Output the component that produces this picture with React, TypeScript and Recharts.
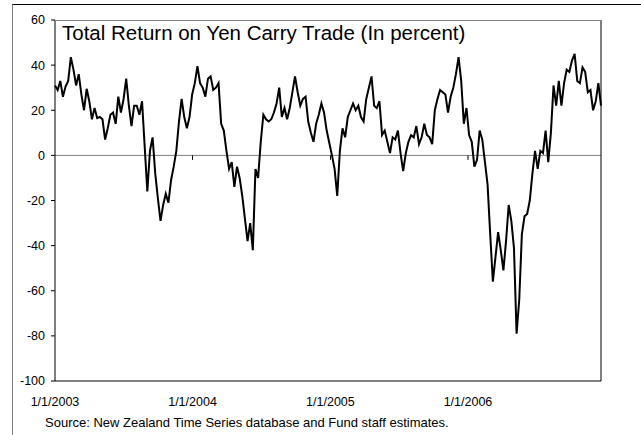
import { LineChart, Line, XAxis, YAxis, ReferenceLine } from 'recharts';

// weekly readings, starting 1/1/2003 (percent)
const returns2003 = [
  31, 29, 33, 26, 30.5, 33, 43.5, 38, 31, 36, 27, 20, 29.5, 24, 16, 21, 16.5, 17, 16, 7, 12, 18, 19,
  14, 26, 19, 25, 34, 22, 13, 22, 22, 18, 24, 4, -16, 2, 8, -8, -19, -29, -22, -17, -21, -11, -5, 2,
  15, 25, 17, 12, 17,
];
const returns2004 = [
  27, 32, 39.5, 32, 30, 26, 34, 35, 29, 30, 32, 14, 11, 2, -6, -3, -14, -5, -10, -18, -28, -38, -30,
  -42, -6, -10, 6, 18, 16, 15, 16, 19, 23, 30, 17, 21, 16, 21, 28, 35, 28, 22, 25, 26, 15, 10, 6, 14,
  18, 23, 19, 11,
];
const returns2005 = [
  5.5, 0, -6, -18, 2, 12, 8, 17, 20, 23, 20, 22, 17, 15, 25, 30, 35, 22, 21, 24, 9, 11, 6, 1, 8, 7,
  11, 1, -7, 1, 6, 9, 8, 13, 5, 8, 14, 9, 8, 5, 20, 25, 29, 28, 27, 19, 26, 30, 36, 43.5, 33, 14,
];
const returns2006 = [
  21, 9, 6, -5, -2, 11, 7, -3, -13, -35, -56, -45, -34, -42, -51, -38, -22, -29, -41, -79, -64, -35,
  -27, -26, -20, -8, 2, -6, 2, 1, 11, -3, 10, 31, 22, 33, 22, 32, 38, 37, 42, 45, 33, 32, 39, 37, 28,
  29, 20, 24, 32, 22,
];

const yearLabels = ['1/1/2003', '1/1/2004', '1/1/2005', '1/1/2006'];
const yTicks = [-100, -80, -60, -40, -20, 0, 20, 40, 60];

const values = [...returns2003, ...returns2004, ...returns2005, ...returns2006];
const data = values.map((v, i) => ({ day: i * 7, value: v }));
const lastDay = (values.length - 1) * 7;

const dayOf = (label: string) => {
  const [m, d, y] = label.split('/').map(Number);
  return Math.round((Date.UTC(y, m - 1, d) - Date.UTC(2003, 0, 1)) / 86400000);
};
const tickDays = yearLabels.map(dayOf);

const tickFont = { fontSize: 12.5, fill: '#000', fontFamily: 'Liberation Sans, Arial, sans-serif' };

export default function App() {
  return (
    <div
      style={{
        position: 'absolute',
        left: 0,
        top: 0,
        width: 641,
        height: 435,
        background: '#fff',
        overflow: 'hidden',
        fontFamily: 'Liberation Sans, Arial, sans-serif',
      }}
    >
      {/* chart area frame */}
      <div
        style={{
          position: 'absolute',
          left: 12,
          top: 4,
          width: 640,
          height: 440,
          borderTop: '1px solid #000',
          borderLeft: '1px solid #808080',
        }}
      />
      <LineChart
        width={641}
        height={435}
        data={data}
        margin={{ top: 20, right: 0, bottom: 24, left: 0 }}
        style={{ position: 'absolute', left: 0, top: 0 }}
      >
        <XAxis
          dataKey="day"
          type="number"
          domain={[0, lastDay]}
          ticks={tickDays}
          tickFormatter={(d: number) => yearLabels[tickDays.indexOf(d)] ?? ''}
          tickLine={false}
          tickSize={6}
          tickMargin={10}
          axisLine={{ stroke: '#000', strokeWidth: 1 }}
          tick={tickFont}
          height={30}
          interval={0}
        />
        <YAxis
          yAxisId="left"
          domain={[-100, 60]}
          ticks={yTicks}
          width={55}
          tickSize={4}
          tickMargin={6}
          axisLine={{ stroke: '#000' }}
          tickLine={{ stroke: '#000' }}
          tick={tickFont}
          interval={0}
        />
        <YAxis
          yAxisId="right"
          orientation="right"
          domain={[-100, 60]}
          ticks={yTicks}
          width={40}
          tickSize={4}
          tickMargin={5}
          axisLine={{ stroke: '#000' }}
          tickLine={{ stroke: '#000' }}
          tick={{ ...tickFont, textAnchor: 'start' }}
          interval={0}
        />
        <ReferenceLine yAxisId="left" y={0} stroke="#808080" />
        {tickDays.slice(1).map((d) => (
          <ReferenceLine
            key={d}
            yAxisId="left"
            segment={[
              { x: d, y: 0 },
              { x: d, y: -2 },
            ]}
            stroke="#000"
          />
        ))}
        <Line
          yAxisId="left"
          type="linear"
          dataKey="value"
          stroke="#000"
          strokeWidth={2}
          dot={false}
          isAnimationActive={false}
        />
      </LineChart>
      {/* plot area top border */}
      <div
        style={{
          position: 'absolute',
          left: 55,
          top: 20,
          width: 546,
          height: 1,
          background: '#808080',
        }}
      />
      <div
        style={{
          position: 'absolute',
          left: 62,
          top: 23,
          fontSize: 20.5,
          lineHeight: '20px',
          color: '#000',
          whiteSpace: 'nowrap',
        }}
      >
        Total Return on Yen Carry Trade (In percent)
      </div>
      <div
        style={{
          position: 'absolute',
          left: 45,
          top: 416,
          fontSize: 13,
          lineHeight: '14px',
          color: '#000',
          whiteSpace: 'nowrap',
        }}
      >
        Source: New Zealand Time Series database and Fund staff estimates.
      </div>
    </div>
  );
}
